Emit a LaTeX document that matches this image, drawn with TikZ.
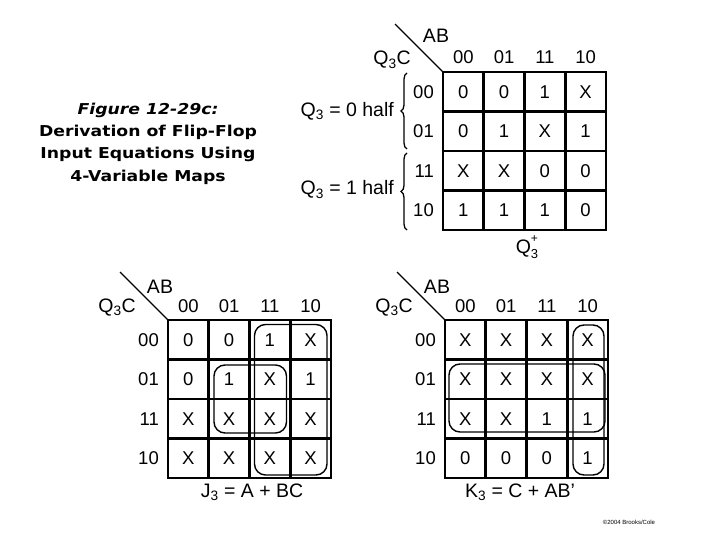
\documentclass[tikz,border=0pt]{standalone}
\usepackage{fontspec}
\setmainfont{Liberation Sans}
\newfontfamily\titlefont[FakeStretch=1.15]{DejaVu Sans}
\usepackage{tikz}
\usetikzlibrary{decorations.pathreplacing, positioning}

\begin{document}
\begin{tikzpicture}[x=1pt, y=-1pt,
    mapText/.style={font=\fontsize{18.5}{18.5}\selectfont, inner sep=0pt},
    bigText/.style={font=\fontsize{19.5}{19.5}\selectfont, inner sep=0pt},
    cellNode/.style={mapText, anchor=center},
    rowLabel/.style={mapText, anchor=east},
    gridLine/.style={line width=2.9pt},
    diagLine/.style={line width=1.3pt},
    loopLine/.style={line width=1.4pt, rounded corners=11pt},
    braceLine/.style={line width=1.3pt, decorate, decoration={brace, amplitude=6pt}}
]
    \useasboundingbox (0,0) rectangle (720,540);

    % Title
    \node[font=\titlefont\bfseries\fontsize{15}{22.3}\selectfont, align=center] (title) at (148,143.5)
        {\textit{Figure 12-29c:}\\Derivation of Flip-Flop\\Input Equations Using\\4-Variable Maps};

    % Top map (Q3+)
    \coordinate (topc) at (443,72);
    \draw[gridLine] (443,72) rectangle ++(163,158);
    \foreach \i in {1,2,3} {
        \draw[gridLine] (443+40.75*\i,72) -- ++(0,158);
        \draw[gridLine] (443,72+39.5*\i) -- ++(163,0);
    }
    \foreach \row [count=\r] in {{0,0,1,X},{0,1,X,1},{X,X,0,0},{1,1,1,0}} {
        \foreach \val [count=\c] in \row {
            \node[cellNode] (top-\r-\c) at (443+40.75*\c-20.375, 72+39.5*\r-19.75) {\val};
        }
    }
    \foreach \lab [count=\c] in {00,01,11,10} {
        \node[cellNode] (topcol-\c) at (443+40.75*\c-20.375, 57.5) {\lab};
        \node[rowLabel] (toprow-\c) at (434, 72+39.5*\c-19.75) {\lab};
    }
    \coordinate (topd) at (395,24);
    \draw[diagLine] (topd) -- (topc);
    \node[bigText, anchor=center] (topab) at (436,36) {AB};
    \node[bigText, anchor=base east] (topq) at (411,65) {Q\textsubscript{3}C};

    % Halves
    \coordinate (b1s) at (407,149);
    \coordinate (b1e) at (407,73);
    \coordinate (b2s) at (407,230);
    \coordinate (b2e) at (407,153);
    \draw[braceLine] (b1s) -- (b1e);
    \draw[braceLine] (b2s) -- (b2e);
    \node[bigText, anchor=base east] (half0) at (394,116.5) {Q\textsubscript{3} = 0 half};
    \node[bigText, anchor=base east] (half1) at (394,195) {Q\textsubscript{3} = 1 half};
    \node[bigText, anchor=base] (qplus) at (527,253)
        {Q\rlap{\raisebox{1.0ex}{\fontsize{12}{12}\selectfont +}}\raisebox{-0.55ex}{\fontsize{13}{13}\selectfont 3}};

    % Bottom left map (J3)
    \coordinate (jc) at (168,320);
    \draw[gridLine] (168,320) rectangle ++(163,158);
    \foreach \i in {1,2,3} {
        \draw[gridLine] (168+40.75*\i,320) -- ++(0,158);
        \draw[gridLine] (168,320+39.5*\i) -- ++(163,0);
    }
    \foreach \row [count=\r] in {{0,0,1,X},{0,1,X,1},{X,X,X,X},{X,X,X,X}} {
        \foreach \val [count=\c] in \row {
            \node[cellNode] (j-\r-\c) at (168+40.75*\c-20.375, 320+39.5*\r-19.75) {\val};
        }
    }
    \foreach \lab [count=\c] in {00,01,11,10} {
        \node[cellNode] (jcol-\c) at (168+40.75*\c-20.375, 306) {\lab};
        \node[rowLabel] (jrow-\c) at (159, 320+39.5*\c-19.75) {\lab};
    }
    \coordinate (jd) at (120,272);
    \draw[diagLine] (jd) -- (jc);
    \node[bigText, anchor=center] (jab) at (160,287) {AB};
    \node[bigText, anchor=base east] (jq) at (136,312) {Q\textsubscript{3}C};
    \draw[loopLine] (254.5,324.5) rectangle (327,475);
    \draw[loopLine] (214,365) rectangle (286.5,433);
    \node[bigText, anchor=base] (jeq) at (252,497) {J\textsubscript{3} = A + BC};

    % Bottom right map (K3)
    \coordinate (kc) at (445,320);
    \draw[gridLine] (445,320) rectangle ++(163,158);
    \foreach \i in {1,2,3} {
        \draw[gridLine] (445+40.75*\i,320) -- ++(0,158);
        \draw[gridLine] (445,320+39.5*\i) -- ++(163,0);
    }
    \foreach \row [count=\r] in {{X,X,X,X},{X,X,X,X},{X,X,1,1},{0,0,0,1}} {
        \foreach \val [count=\c] in \row {
            \node[cellNode] (k-\r-\c) at (445+40.75*\c-20.375, 320+39.5*\r-19.75) {\val};
        }
    }
    \foreach \lab [count=\c] in {00,01,11,10} {
        \node[cellNode] (kcol-\c) at (445+40.75*\c-20.375, 306) {\lab};
        \node[rowLabel] (krow-\c) at (436, 320+39.5*\c-19.75) {\lab};
    }
    \coordinate (kd) at (397,272);
    \draw[diagLine] (kd) -- (kc);
    \node[bigText, anchor=center] (kab) at (437,287) {AB};
    \node[bigText, anchor=base east] (kq) at (413,312) {Q\textsubscript{3}C};
    \draw[loopLine] (573,325) rectangle (604,475);
    \draw[loopLine] (449,364) rectangle (605,432);
    \node[bigText, anchor=base] (keq) at (520,497) {K\textsubscript{3} = C + AB'};

    % Credit
    \node[font=\fontsize{6}{7}\selectfont] (credit) at (629,522) {\textcopyright2004 Brooks/Cole};
\end{tikzpicture}
\end{document}
